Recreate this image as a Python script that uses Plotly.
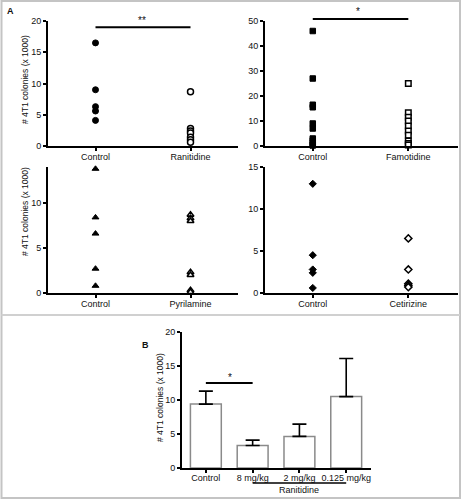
import plotly.graph_objects as go

W, H = 462, 500

# ---------------- data ----------------
ctrl_ran = [16.5, 9.0, 6.3, 5.6, 4.1]
ranitidine = [8.7, 2.8, 2.4, 2.1, 1.4, 1.0, 0.6]

ctrl_fam = [46, 27, 16.5, 15.5, 9, 7, 3, 2.2, 1.2, 0.5, 0.2]
famotidine = [25, 13.3, 11.5, 10, 8, 6, 4.3, 2, 1, 0.4]

ctrl_pyr = [13.8, 8.4, 6.6, 2.7, 0.8]
pyrilamine = [8.7, 8.3, 8.0, 2.3, 2.0, 0.3, 0.1]

ctrl_cet = [13.0, 4.5, 2.8, 2.4, 0.6]
cetirizine = [6.5, 2.8, 1.1, 0.9, 0.7]

b_groups = ["Control", "8 mg/kg", "2 mg/kg", "0.125 mg/kg"]
b_means = [9.4, 3.3, 4.65, 10.5]
b_err = [1.9, 0.8, 1.8, 5.6]

pair_labels = [["Control", "Ranitidine"], ["Control", "Famotidine"],
               ["Control", "Pyrilamine"], ["Control", "Cetirizine"]]

FONT = "Liberation Sans, Arial, sans-serif"


def dx(a, b):
    return [a / W, b / W]


def dy(top, bottom):
    return [1 - bottom / H, 1 - top / H]


def py(v):
    return 1 - v / H


fig = go.Figure()

panels = [
    # (ctrl, treat, symbol, size, xdomain, ydomain, xrange, yrange, ticks)
    (ctrl_ran, ranitidine, "circle", 6, dx(48, 238), dy(21, 146), [0.5, 2.5], [0, 20], [0, 5, 10, 15, 20]),
    (ctrl_fam, famotidine, "square", 5.5, dx(265, 458), dy(21, 146), [0.5, 2.52], [0, 50], [0, 10, 20, 30, 40, 50]),
    (ctrl_pyr, pyrilamine, "triangle-up", 6, dx(48, 238), dy(167, 293), [0.5, 2.5], [0, 14], [0, 5, 10]),
    (ctrl_cet, cetirizine, "diamond", 5.5, dx(265, 458), dy(167, 293), [0.5, 2.52], [0, 15], [0, 5, 10, 15]),
]

axis_common = dict(showgrid=False, zeroline=False, showline=True, linecolor="black",
                   linewidth=1.8, ticks="outside", ticklen=3, tickwidth=1.5,
                   tickcolor="black", tickfont=dict(family=FONT, size=9, color="#111"),
                   fixedrange=True, automargin=False)

for i, (c, t, sym, sz, xd, yd, xr, yr, tks) in enumerate(panels):
    n = i + 1
    xa = "x" if n == 1 else f"x{n}"
    ya = "y" if n == 1 else f"y{n}"
    fig.add_trace(go.Scatter(x=[1] * len(c), y=c, mode="markers", xaxis=xa, yaxis=ya,
                             marker=dict(symbol=sym, size=sz, color="black",
                                         line=dict(color="black", width=1)),
                             cliponaxis=False, showlegend=False))
    fig.add_trace(go.Scatter(x=[2] * len(t), y=t, mode="markers", xaxis=xa, yaxis=ya,
                             marker=dict(symbol=sym, size=sz, color="white",
                                         line=dict(color="black", width=1.5)),
                             cliponaxis=False, showlegend=False))
    kx = "xaxis" if n == 1 else f"xaxis{n}"
    ky = "yaxis" if n == 1 else f"yaxis{n}"
    fig.layout[kx] = dict(domain=xd, range=xr, anchor=ya, tickvals=[1, 2],
                          ticktext=pair_labels[i], ticklabelstandoff=-2, **axis_common)
    fig.layout[ky] = dict(domain=yd, range=yr, anchor=xa, tickvals=tks, **axis_common)

# ---------------- panel B ----------------
fig.add_trace(go.Bar(x=list(range(len(b_groups))), y=b_means, xaxis="x5", yaxis="y5",
                     width=0.66,
                     marker=dict(color="white", line=dict(color="#8a8a8a", width=1.5)),
                     error_y=dict(type="data", array=b_err, arrayminus=[0] * len(b_err),
                                  symmetric=False, color="black", thickness=1.6, width=7),
                     showlegend=False))
fig.layout["xaxis5"] = dict(domain=dx(182, 371), range=[-0.51, 3.53], anchor="y5",
                            tickvals=list(range(len(b_groups))), ticktext=b_groups,
                            ticklabelstandoff=-3, **axis_common)
fig.layout["yaxis5"] = dict(domain=dy(332, 468), range=[0, 20], anchor="x5",
                            tickvals=[0, 5, 10, 15, 20], **axis_common)

shapes = []
# significance bars
shapes.append(dict(type="line", xref="x", yref="y", x0=1, x1=2, y0=19, y1=19,
                   line=dict(color="black", width=2)))
shapes.append(dict(type="line", xref="x2", yref="paper", x0=1, x1=2, y0=py(19), y1=py(19),
                   line=dict(color="black", width=2)))
shapes.append(dict(type="line", xref="x5", yref="y5", x0=0, x1=1, y0=12.5, y1=12.5,
                   line=dict(color="black", width=2)))
# Ranitidine group underline
shapes.append(dict(type="line", xref="x5", yref="paper", x0=1, x1=3, y0=py(483), y1=py(483),
                   line=dict(color="black", width=1.5)))
# frame and separator
shapes.append(dict(type="rect", xref="paper", yref="paper", x0=1.5 / W, x1=1 - 2 / W,
                   y0=2 / H, y1=1 - 1 / H, line=dict(color="#c4c4c4", width=2)))
shapes.append(dict(type="line", xref="paper", yref="paper", x0=1.5 / W, x1=1 - 2 / W,
                   y0=py(315), y1=py(315), line=dict(color="#d0d0d0", width=2)))

ylabel = "# 4T1 colonies (x 1000)"


def note(text, xpx, ypx, size=9, angle=0):
    return dict(text=text, x=xpx / W, y=py(ypx), xref="paper", yref="paper",
                showarrow=False, xanchor="center", yanchor="middle", textangle=angle,
                font=dict(family=FONT, size=size, color="#111"))


ann = [
    note("<b>A</b>", 10, 11),
    note("<b>B</b>", 145, 345),
    note("**", 142, 20, size=10),
    note("*", 358, 11, size=10),
    note("*", 230, 377, size=10),
    note("Ranitidine", 299, 490),
    note(ylabel, 25, 80, size=8.5, angle=-90),
    note(ylabel, 25, 212, size=8.5, angle=-90),
    note(ylabel, 160, 398, size=8.5, angle=-90),
]

fig.update_layout(template="none", width=W, height=H, margin=dict(l=0, r=0, t=0, b=0, pad=0),
                  autosize=False,
                  paper_bgcolor="white", plot_bgcolor="white",
                  shapes=shapes, annotations=ann, showlegend=False,
                  font=dict(family=FONT))

fig.write_html("out.html", config={"displayModeBar": False},
               post_script="document.body.style.margin='0';document.body.style.padding='0';"
                           "document.body.style.overflow='hidden';"
                           "document.documentElement.style.overflow='hidden';")
